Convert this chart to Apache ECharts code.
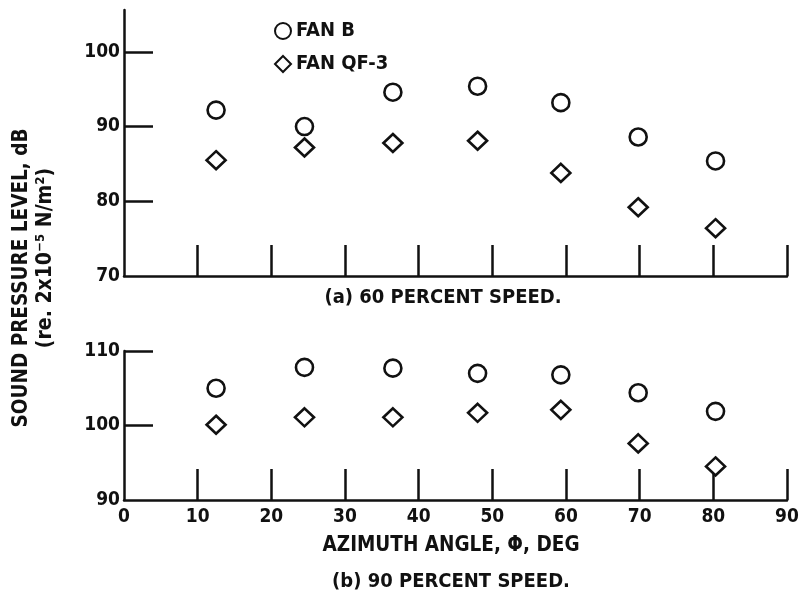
<!DOCTYPE html>
<html>
<head>
<meta charset="utf-8">
<script src="https://cdn.jsdelivr.net/npm/echarts@6/dist/echarts.min.js"></script>
<style>
  html, body { margin: 0; padding: 0; background: #fff; }
  #chart { width: 804px; height: 601px; }
</style>
</head>
<body>
<div id="chart"></div>
<script>
// azimuth angles, deg
var angles = [12.5, 24.5, 36.5, 48, 59.3, 69.8, 80.3];
// (a) 60 percent speed
var fanB60 = [92.2, 90.0, 94.6, 95.4, 93.2, 88.6, 85.4];
var fanQF60 = [85.5, 87.2, 87.8, 88.1, 83.8, 79.2, 76.4];
// (b) 90 percent speed
var fanB90 = [105.0, 107.8, 107.7, 107.0, 106.8, 104.4, 101.9];
var fanQF90 = [100.1, 101.1, 101.1, 101.7, 102.1, 97.6, 94.5];

var xTicks = [10, 20, 30, 40, 50, 60, 70, 80, 90];
var xLabels = [0, 10, 20, 30, 40, 50, 60, 70, 80, 90];
var yLabelsA = [70, 80, 90, 100];
var yTicksA = [80, 90, 100];
var yLabelsB = [90, 100, 110];
var yTicksB = [100, 110];

var FONT = "'Liberation Sans Narrow', 'DejaVu Sans Condensed', 'Liberation Sans', sans-serif";
var INK = '#111';

function pairs(xs, ys) {
    return xs.map(function (x, i) { return [x, ys[i]]; });
}

function xAxisFor(gridIndex, showLabels) {
    return {
        type: 'value', gridIndex: gridIndex, min: 0, max: 90, interval: 10,
        axisLine: { lineStyle: { color: INK, width: 2.5 } },
        axisTick: { inside: true, length: 31, customValues: xTicks, lineStyle: { color: INK, width: 2.5 } },
        axisLabel: {
            show: showLabels, customValues: xLabels, margin: 8,
            color: INK, fontFamily: FONT, fontWeight: 'bold', fontSize: 19
        },
        splitLine: { show: false }
    };
}

function yAxisFor(gridIndex, min, max, labels, ticks) {
    return {
        type: 'value', gridIndex: gridIndex, min: min, max: max, interval: 10,
        axisLine: { lineStyle: { color: INK, width: 2.5 } },
        axisTick: { inside: true, length: 29, customValues: ticks, lineStyle: { color: INK, width: 2.5 } },
        axisLabel: {
            customValues: labels, margin: 4,
            color: INK, fontFamily: FONT, fontWeight: 'bold', fontSize: 19
        },
        splitLine: { show: false }
    };
}

function scatter(name, data, symbol, size, idx) {
    return {
        type: 'scatter', name: name, data: data, symbol: symbol, symbolSize: size,
        xAxisIndex: idx, yAxisIndex: idx,
        itemStyle: { color: '#fff', borderColor: INK, borderWidth: 2.6, opacity: 1 }
    };
}

function label(text, x, y, size, rot) {
    return {
        type: 'text', x: x, y: y, rotation: rot || 0,
        style: {
            text: text, textAlign: 'center', textVerticalAlign: 'middle',
            fill: INK, fontFamily: FONT, fontWeight: 'bold', fontSize: size
        }
    };
}

var chart = echarts.init(document.getElementById('chart'), null, { renderer: 'canvas' });

chart.setOption({
    animation: false,
    backgroundColor: '#fff',
    grid: [
        { left: 124, width: 663, top: 10, height: 266 },
        { left: 124, width: 663, top: 351, height: 149 }
    ],
    xAxis: [xAxisFor(0, false), xAxisFor(1, true)],
    yAxis: [
        yAxisFor(0, 70, 105.6, yLabelsA, yTicksA),
        yAxisFor(1, 90, 110, yLabelsB, yTicksB)
    ],
    legend: {
        orient: 'vertical', left: 269, top: 15, itemGap: 11,
        itemWidth: 16, itemHeight: 16,
        data: [{ name: 'FAN B', icon: 'circle' }, { name: 'FAN QF-3', icon: 'diamond' }],
        itemStyle: { opacity: 1 },
        textStyle: { color: INK, fontFamily: FONT, fontWeight: 'bold', fontSize: 20, lineHeight: 22 }
    },
    series: [
        scatter('FAN B', pairs(angles, fanB60), 'circle', 17, 0),
        scatter('FAN QF-3', pairs(angles, fanQF60), 'diamond', [19, 18], 0),
        scatter('FAN B', pairs(angles, fanB90), 'circle', 17, 1),
        scatter('FAN QF-3', pairs(angles, fanQF90), 'diamond', [19, 18], 1)
    ],
    graphic: [
        label('SOUND PRESSURE LEVEL, dB', 22, 278, 20.5, Math.PI / 2),
        label('(re. 2x10\u207B\u2075 N/m\u00B2)', 46, 258, 21, Math.PI / 2),
        label('(a) 60 PERCENT SPEED.', 443, 298, 20),
        label('AZIMUTH ANGLE, \u03A6, DEG', 451, 546, 20.5),
        label('(b) 90 PERCENT SPEED.', 451, 582, 20)
    ]
});
</script>
</body>
</html>
